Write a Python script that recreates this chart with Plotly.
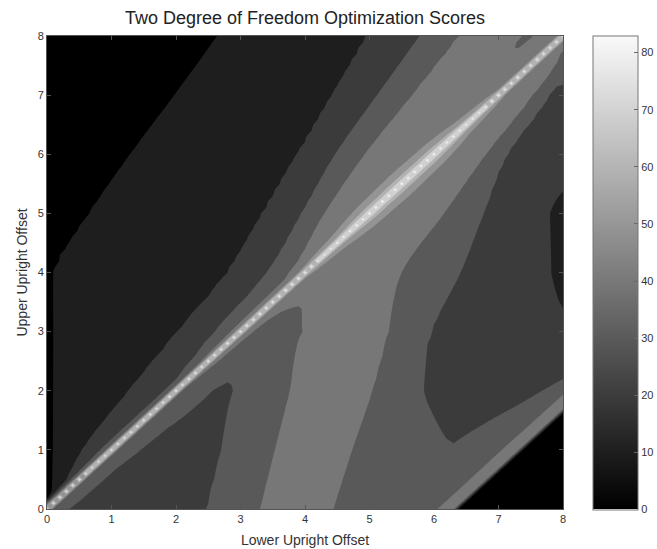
import numpy as np
import plotly.graph_objects as go

TITLE = "Two Degree of Freedom Optimization Scores"
X_TITLE = "Lower Upright Offset"
Y_TITLE = "Upper Upright Offset"
AXIS_TICKS = [0, 1, 2, 3, 4, 5, 6, 7, 8]
CBAR_TICKS = [0, 10, 20, 30, 40, 50, 60, 70, 80]
LEVEL_START, LEVEL_END, LEVEL_STEP = 10, 80, 10
SCORE_MAX = 83
GRID_STEP = 0.1  # offsets were scored on a 0.1 grid

ROW_Y = [0, 1, 2, 3, 4, 5, 6, 7, 8]

# Region above the diagonal (upper offset > lower offset):
# score knots along each row, from the left edge towards the diagonal
ABOVE_X = [
    [0, 0.07, 0.1, 0.13, 0.16, 0.17, 0.18, 0.19, 0.2],
    [0, 0.07, 0.55, 0.85, 0.97, 0.98, 0.985, 0.99, 1.0],
    [0, 0.07, 1.27, 1.85, 1.95, 1.96, 1.97, 1.98, 2.0],
    [0, 0.07, 2.03, 2.6, 2.9, 2.93, 2.95, 2.97, 3.0],
    [0, 0.07, 2.8, 3.41, 3.77, 3.83, 3.88, 3.93, 4.0],
    [0, 0.63, 3.35, 3.95, 4.3, 4.5, 4.7, 4.85, 5.0],
    [0, 1.28, 3.89, 4.47, 4.92, 5.3, 5.6, 5.8, 6.0],
    [0, 1.97, 4.43, 5.12, 5.65, 6.2, 6.5, 6.8, 7.0],
    [0, 2.64, 4.96, 5.78, 6.36, 7.28, 7.45, 7.62, 8.0],
]
ABOVE_Z = [
    [5, 10, 20, 30, 40, 42, 42, 42, 42],
    [5, 10, 20, 30, 40, 42, 42, 42, 42],
    [5, 10, 20, 30, 40, 42, 42, 42, 42],
    [5, 10, 20, 30, 40, 43, 43, 43, 44],
    [5, 10, 20, 30, 40, 44, 45, 45, 45],
    [3, 10, 20, 30, 40, 46, 46, 46, 46],
    [2, 10, 20, 30, 40, 46, 46, 46, 46],
    [1, 10, 20, 30, 40, 46, 46, 46, 46],
    [0, 10, 20, 30, 40, 43, 37, 43, 45],
]

# Region below the diagonal: knots from the diagonal towards the right edge
BELOW_X = [
    [0.0, 0.31, 1.4, 2.48, 2.9, 3.3, 3.85, 4.44, 5.2, 5.7, 6.2, 7.0, 8.0],
    [1.0, 1.43, 2.0, 2.7, 3.1, 3.53, 4.1, 4.73, 5.5, 5.9, 6.25, 7.0, 8.0],
    [2.0, 2.55, 2.74, 2.88, 3.3, 3.76, 4.4, 5.05, 5.45, 5.83, 6.7, 7.67, 8.0],
    [3.0, 3.1, 3.2, 3.35, 3.55, 3.95, 4.6, 5.3, 5.65, 5.95, 7.0, 7.8, 8.0],
    [4.0, 4.1, 4.2, 4.3, 4.5, 4.7, 5.0, 5.5, 5.95, 6.41, 7.2, 7.85, 8.0],
    [5.0, 5.1, 5.2, 5.3, 5.45, 5.6, 5.8, 6.16, 6.45, 6.77, 7.3, 7.8, 8.0],
    [6.0, 6.08, 6.16, 6.24, 6.32, 6.4, 6.5, 6.82, 6.97, 7.13, 7.5, 7.8, 8.0],
    [7.0, 7.05, 7.1, 7.15, 7.2, 7.25, 7.3, 7.54, 7.66, 7.78, 7.88, 7.94, 8.0],
    [8.0, 8.01, 8.02, 8.03, 8.04, 8.05, 8.06, 8.07, 8.08, 8.09, 8.1, 8.11, 8.12],
]
BELOW_Z = [
    [42, 30, 24, 30, 35, 40, 46, 40, 33, 35, 36, 38, 40],
    [42, 30, 24, 30, 35, 40, 46, 40, 34, 32, 30.6, 36, 40],
    [42, 30, 28, 30, 35, 40, 46, 40, 35, 30, 24, 30, 32],
    [44, 42, 40, 37, 35, 40, 45, 40, 35, 30, 24, 22, 22],
    [45, 46, 46, 46, 46, 46, 46, 40, 35, 30, 23, 20, 17],
    [46, 46, 46, 46, 46, 46, 45, 40, 35, 30, 23, 20, 17],
    [46, 46, 46, 46, 46, 46, 45, 40, 35, 30, 26, 25, 25],
    [46, 46, 46, 46, 46, 46, 45, 40, 35, 30, 28, 28, 28],
    [45, 45, 45, 45, 45, 45, 45, 45, 45, 40, 38, 38, 40],
]

# Sharp ridge along the equal-offset diagonal, sampled along the diagonal
RIDGE_V = [0, 1, 2, 3, 4, 4.5, 5.0, 5.5, 6.0, 6.5, 7.0, 7.5, 8]
RIDGE_PEAK = [82, 84, 85, 85, 85, 86, 86, 86, 86, 86, 85, 84, 84]
RIDGE_BASE = [32, 32, 34, 38, 42, 45, 45, 45, 45, 44, 42, 42, 42]
RIDGE_DECAY = [0.035, 0.035, 0.04, 0.05, 0.06, 0.09, 0.14, 0.15, 0.14, 0.10, 0.06, 0.05, 0.05]
RIDGE_CUT = [0.12, 0.12, 0.14, 0.16, 0.2, 0.3, 0.4, 0.45, 0.4, 0.3, 0.2, 0.16, 0.15]

# Drop-off in the lower right corner (lower minus upper offset beyond a limit)
CLIFF_OFFSET = 6.35
CLIFF_SCORE = 3
STRIP_WIDTH = 0.3
STRIP_SCORE = 44

# ---- build grid ----
xs = np.round(np.arange(0, 8 + GRID_STEP / 2, GRID_STEP), 4)
ys = xs.copy()


def morph_field(row_y, kx, kz):
    row_y = np.asarray(row_y, float)
    kx = np.asarray(kx, float)
    kz = np.asarray(kz, float)
    n = len(row_y)
    gx = np.vstack([2 * kx[0] - kx[1], kx, 2 * kx[-1] - kx[-2]])
    out = np.empty((len(ys), len(xs)))
    for r, y in enumerate(ys):
        i = int(np.clip(np.searchsorted(row_y, y, side="right") - 1, 0, n - 2))
        t = (y - row_y[i]) / (row_y[i + 1] - row_y[i])
        p0, p1, p2, p3 = gx[i], gx[i + 1], gx[i + 2], gx[i + 3]
        px = 0.5 * (2 * p1 + (-p0 + p2) * t + (2 * p0 - 5 * p1 + 4 * p2 - p3) * t * t
                    + (-p0 + 3 * p1 - 3 * p2 + p3) * t ** 3)
        px = np.maximum.accumulate(px)
        pz = (1 - t) * kz[i] + t * kz[i + 1]
        out[r] = np.interp(xs, px, pz)
    return out


A = morph_field(ROW_Y, ABOVE_X, ABOVE_Z)
Bl = morph_field(ROW_Y, BELOW_X, BELOW_Z)
X, Y = np.meshgrid(xs, ys)
U = np.round(X - Y, 6)
V = (X + Y) / 2
B = np.where(U < 0, A, Bl)

peak = np.interp(V, RIDGE_V, RIDGE_PEAK)
base = np.interp(V, RIDGE_V, RIDGE_BASE)
decay = np.interp(V, RIDGE_V, RIDGE_DECAY)
cut = np.interp(V, RIDGE_V, RIDGE_CUT)
D = base + (peak - base) * np.exp(-np.abs(U) / decay)
D = np.where(np.abs(U) < cut, D, 0)
Z = np.maximum(B, D)
strip = (U > CLIFF_OFFSET - STRIP_WIDTH) & (U <= CLIFF_OFFSET)
Z = np.where(strip, np.maximum(Z, STRIP_SCORE), Z)
Z = np.where(U > CLIFF_OFFSET, CLIFF_SCORE, Z)

# ---- colours ----
n_bands = int((LEVEL_END - LEVEL_START) / LEVEL_STEP) + 2
band_cs = []
for k in range(n_bands):
    g = int(round(min(k * LEVEL_STEP, SCORE_MAX) / SCORE_MAX * 255 * 0.965))
    band_cs.append([k / (n_bands - 1), f"rgb({g},{g},{g})"])

FONT = "Liberation Sans, Arial, Helvetica, sans-serif"

fig = go.Figure()
fig.add_trace(go.Contour(
    x=xs, y=ys, z=Z.round(2).tolist(),
    autocontour=False,
    contours=dict(start=LEVEL_START, end=LEVEL_END, size=LEVEL_STEP,
                  coloring="fill", showlines=False),
    line=dict(width=0, smoothing=0),
    colorscale=band_cs,
    showscale=False,
    hoverinfo="skip",
))
fig.add_trace(go.Scatter(
    x=[None], y=[None], mode="markers",
    marker=dict(color=[0], cmin=0, cmax=SCORE_MAX,
                colorscale=[[0, "rgb(0,0,0)"], [1, "rgb(250,250,250)"]],
                showscale=True,
                colorbar=dict(
                    x=1.058, xanchor="left", xpad=0,
                    y=0.5, yanchor="middle", ypad=0,
                    lenmode="pixels", len=474,
                    thicknessmode="pixels", thickness=45,
                    outlinewidth=1, outlinecolor="#777",
                    tickvals=CBAR_TICKS, ticks="inside", ticklen=4,
                    tickcolor="#666",
                    tickfont=dict(size=11, color="#333", family=FONT),
                )),
    showlegend=False, hoverinfo="skip",
))

axis_common = dict(
    range=[0, 8], tickvals=AXIS_TICKS, ticks="inside", ticklen=4,
    tickcolor="#555", showline=True, linecolor="#555", linewidth=1,
    mirror="ticks", showgrid=False, zeroline=False,
    tickfont=dict(size=11, color="#333", family=FONT),
)
fig.update_layout(
    width=657, height=549,
    margin=dict(l=47, r=94, t=36, b=40, autoexpand=False),
    paper_bgcolor="white", plot_bgcolor="white",
    font=dict(family=FONT, color="#222"),
    title=dict(text=TITLE, x=0.5, xref="paper", y=1 - 18 / 549, yref="container",
               yanchor="middle", font=dict(size=18, color="#222", family=FONT)),
    xaxis=dict(**axis_common,
               title=dict(text=X_TITLE, font=dict(size=14, color="#333", family=FONT), standoff=10)),
    yaxis=dict(**axis_common,
               title=dict(text=Y_TITLE, font=dict(size=14, color="#333", family=FONT), standoff=6)),
    showlegend=False,
)

fig.write_html("out.html")
